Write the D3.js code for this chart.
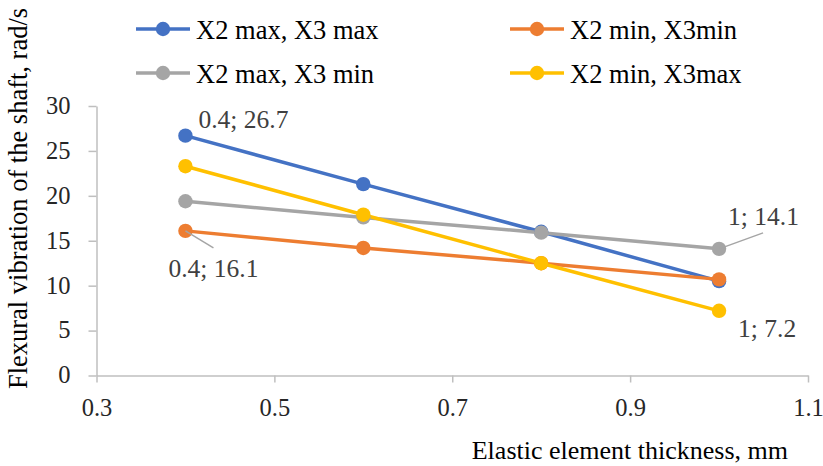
<!DOCTYPE html>
<html><head><meta charset="utf-8">
<script src="https://cdn.jsdelivr.net/npm/d3@7"></script>
<style>body{margin:0;background:#fff}svg{display:block}</style>
</head><body>
<svg id="c" width="823" height="466"></svg>
<script>
const thickness = [0.4, 0.6, 0.8, 1.0];
const seriesNames = ["X2 max, X3 max", "X2 min, X3min", "X2 max, X3 min", "X2 min, X3max"];
const seriesColors = ["#4472C4", "#ED7D31", "#A5A5A5", "#FFC000"];
const blueVals = [26.7, 21.3, 16.0, 10.5];
const orangeVals = [16.1, 14.2, 12.5, 10.7];
const grayVals = [19.4, 17.6, 15.9, 14.1];
const yellowVals = [23.3, 17.9, 12.5, 7.2];
const xTicks = [0.3, 0.5, 0.7, 0.9, 1.1];
const yTicks = [0, 5, 10, 15, 20, 25, 30];
const allVals = [blueVals, orangeVals, grayVals, yellowVals];
const drawOrder = [0, 1, 2, 3];

const font = "Liberation Serif, Times New Roman, serif";
const svg = d3.select("#c").attr("font-family", font);
const x = d3.scaleLinear().domain([0.3, 1.1]).range([96.5, 808]);
const y = d3.scaleLinear().domain([0, 30]).range([375.5, 106]);

const gx = svg.append("g").attr("transform", "translate(0,375.5)")
  .call(d3.axisBottom(x).tickValues(xTicks).tickFormat(d => String(+d.toFixed(1))).tickSize(7).tickPadding(16).tickSizeOuter(0));
const gy = svg.append("g").attr("transform", "translate(96.5,0)")
  .call(d3.axisLeft(y).tickValues(yTicks).tickSize(8).tickPadding(18).tickSizeOuter(0));
[gx, gy].forEach(g => {
  g.attr("font-family", font).attr("font-size", null);
  g.selectAll("path,line").attr("stroke", "#BFBFBF").attr("stroke-width", 1.5);
  g.selectAll("text").attr("fill", "#262626").style("font-family", font).style("font-size", "24.5px");
});
gy.selectAll("text").attr("dy", "0.3em");

const line = d3.line().x((d, i) => x(thickness[i])).y(d => y(d));
drawOrder.forEach(s => {
  svg.append("path").datum(allVals[s]).attr("d", line)
    .attr("fill", "none").attr("stroke", seriesColors[s]).attr("stroke-width", 3.5).attr("stroke-linejoin", "round");
});
drawOrder.forEach(s => {
  svg.append("g").selectAll("circle").data(allVals[s]).join("circle")
    .attr("cx", (d, i) => x(thickness[i])).attr("cy", d => y(d)).attr("r", 7.2)
    .attr("fill", seriesColors[s]);
});

// leader lines
function leader(s, i, dx, dy) {
  const px = x(thickness[i]), py = y(allVals[s][i]);
  svg.append("line").attr("x1", px).attr("y1", py).attr("x2", px + dx).attr("y2", py + dy)
    .attr("stroke", "#A5A5A5").attr("stroke-width", 1.5);
}
leader(1, 0, 28, 17);
leader(2, 3, 44, -16);

// data labels
function label(s, i, dx, dy) {
  const px = x(thickness[i]), py = y(allVals[s][i]);
  const txt = (thickness[i] === 1 ? "1" : thickness[i]) + "; " + allVals[s][i];
  svg.append("text").attr("x", px + dx).attr("y", py + dy).text(txt)
    .attr("fill", "#404040").style("font-size", "25.5px");
}
label(0, 0, 13, -7.5);
label(1, 0, -17, 46);
label(2, 3, 9, -24);
label(3, 3, 19, 26.5);

// legend
const legendPos = [[136, 29], [510, 29], [136, 73], [510, 73]];
seriesNames.forEach((n, s) => {
  const [lx, ly] = legendPos[s];
  const g = svg.append("g");
  g.append("line").attr("x1", lx).attr("x2", lx + 54).attr("y1", ly).attr("y2", ly)
    .attr("stroke", seriesColors[s]).attr("stroke-width", 3.5);
  g.append("circle").attr("cx", lx + 27).attr("cy", ly).attr("r", 7.2).attr("fill", seriesColors[s]);
  g.append("text").attr("x", lx + 60).attr("y", ly + 9.5).text(n)
    .attr("fill", "#000").style("font-size", "26.5px");
});

// axis titles
svg.append("text").attr("transform", "translate(27,198.5) rotate(-90)").attr("text-anchor", "middle")
  .text("Flexural vibration of the shaft, rad/s").attr("fill", "#000").style("font-size", "26.5px");
svg.append("text").attr("x", 788).attr("y", 459).attr("text-anchor", "end")
  .text("Elastic element thickness, mm").attr("fill", "#000").style("font-size", "26px");
</script>
</body></html>
